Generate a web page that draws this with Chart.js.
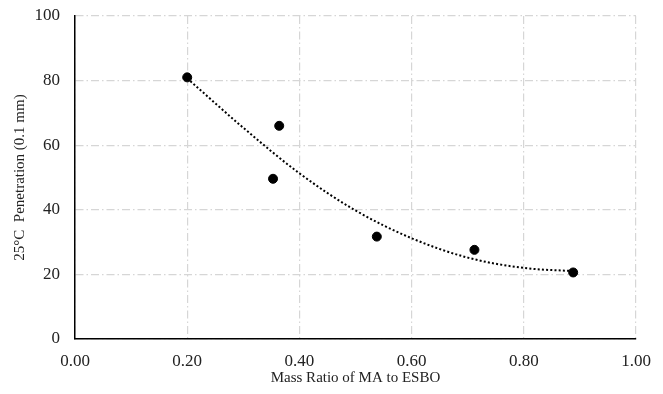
<!DOCTYPE html>
<html>
<head>
<meta charset="utf-8">
<script src="https://cdn.jsdelivr.net/npm/chart.js@4"></script>
<style>
  html, body { margin: 0; padding: 0; background: #fff; }
  #penChart { display: block; }
</style>
</head>
<body>
<canvas id="penChart" width="663" height="394"></canvas>
<script>
// measured points
const massRatio = [0.20, 0.353, 0.364, 0.538, 0.712, 0.888];
const penetration = [81, 49.6, 66, 31.7, 27.6, 20.6];

// dotted trendline
const trendX = [0.20, 0.30, 0.40, 0.50, 0.60, 0.70, 0.80, 0.89];
const trendY = [80.7, 65.4, 51.3, 39.8, 31.2, 25.2, 22.0, 21.0];

const xTicks = [0, 0.2, 0.4, 0.6, 0.8, 1.0];
const yTicks = [0, 20, 40, 60, 80, 100];

const serif = 'Liberation Serif, Times New Roman, serif';
const gridStyle = {
    color: '#d6d6d6',
    lineWidth: 1.2,
    drawTicks: false,
    tickLength: 0
};

function noOverhang(axis) {
    axis.paddingTop = 0;
    axis.paddingBottom = 0;
    axis.paddingLeft = 0;
    axis.paddingRight = 0;
}

const ctx = document.getElementById('penChart');

new Chart(ctx, {
    type: 'scatter',
    data: {
        datasets: [{
            label: 'Penetration',
            data: massRatio.map((x, i) => ({ x: x, y: penetration[i] })),
            backgroundColor: '#000',
            borderColor: '#000',
            pointRadius: 4.5,
            pointHoverRadius: 4.5
        }, {
            label: 'Trend',
            type: 'line',
            data: trendX.map((x, i) => ({ x: x, y: trendY[i] })),
            borderColor: '#000',
            borderWidth: 2,
            borderDash: [2, 2.2],
            pointRadius: 0,
            fill: false,
            cubicInterpolationMode: 'monotone'
        }]
    },
    options: {
        responsive: false,
        animation: false,
        devicePixelRatio: 1,
        layout: {
            padding: { left: 0, right: 27, top: 16, bottom: 0 }
        },
        plugins: {
            legend: { display: false },
            tooltip: { enabled: false }
        },
        scales: {
            x: {
                type: 'linear',
                min: 0,
                max: 1,
                afterBuildTicks: axis => { axis.ticks = xTicks.map(v => ({ value: v })); },
                afterFit: axis => { axis.height = 55; noOverhang(axis); },
                grid: gridStyle,
                border: { display: true, color: '#000', width: 1.5, dash: [8, 3, 1.5, 3] },
                ticks: {
                    color: '#222',
                    font: { family: serif, size: 17 },
                    padding: 12,
                    maxRotation: 0,
                    callback: v => v.toFixed(2)
                },
                title: {
                    display: true,
                    text: 'Mass Ratio of MA to ESBO',
                    color: '#222',
                    font: { family: serif, size: 15 },
                    padding: { top: 0, bottom: 7 }
                }
            },
            y: {
                min: 0,
                max: 100,
                afterBuildTicks: axis => { axis.ticks = yTicks.map(v => ({ value: v })); },
                afterFit: axis => { axis.width = 75; noOverhang(axis); },
                grid: gridStyle,
                border: { display: true, color: '#000', width: 1.5, dash: [8, 3, 1.5, 3] },
                ticks: {
                    color: '#222',
                    font: { family: serif, size: 17 },
                    padding: 15
                },
                title: {
                    display: true,
                    text: '25°C  Penetration (0.1 mm)',
                    color: '#222',
                    font: { family: serif, size: 15 },
                    padding: { top: 11, bottom: 0 }
                }
            }
        }
    }
});
</script>
</body>
</html>
